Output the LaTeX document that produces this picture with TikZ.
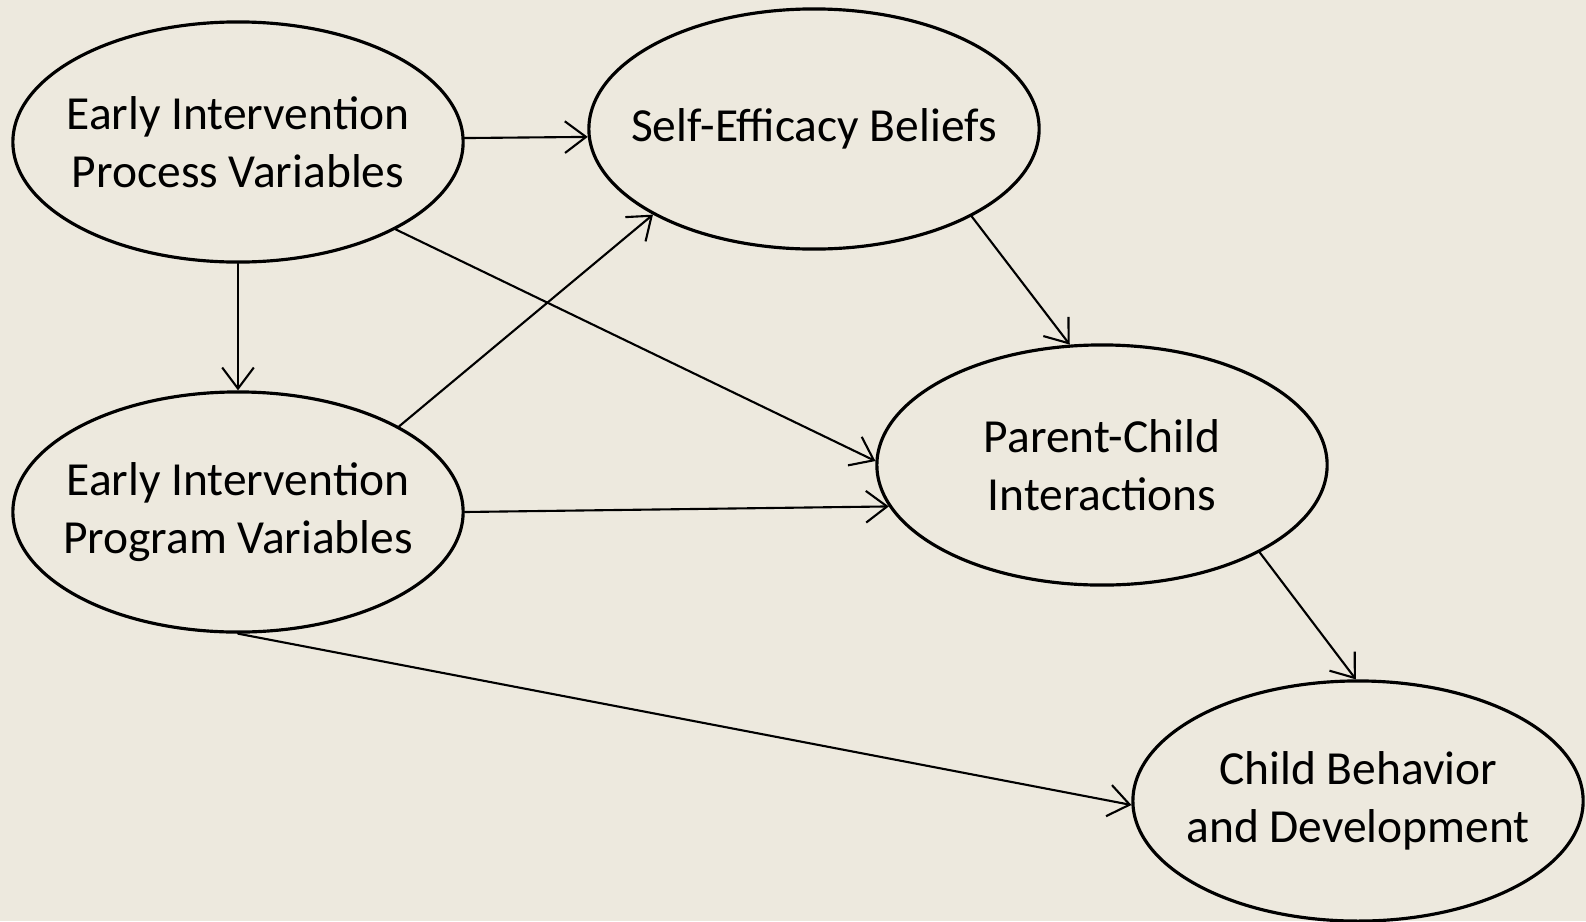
\documentclass[tikz,border=0pt]{standalone}
\usepackage{fontspec}
\setmainfont{Carlito}
\usetikzlibrary{shapes.geometric,arrows.meta}
\definecolor{paper}{RGB}{237,233,222}
\begin{document}
\begin{tikzpicture}[x=0.01cm,y=-0.01cm,line cap=round,line join=round,
  every node/.style={font=\fontsize{13.5}{16.4}\selectfont},
  oval/.style={ellipse,draw,line width=0.9pt,inner xsep=-12pt,inner ysep=0pt,minimum width=4.5cm,minimum height=2.4cm,align=center},
  arr/.style={line width=0.6pt,-{Straight Barb[length=6pt,width=9pt]}}]
  \fill[paper] (0,0) rectangle (1586,921);
  \useasboundingbox (0,0) rectangle (1586,921);
  \node[oval] (proc) at (238,142) {Early Intervention\\Process Variables};
  \node[oval] (eff) at (814,129) {Self-Efficacy Beliefs};
  \node[oval] (prog) at (238,512) {Early Intervention\\Program Variables};
  \node[oval] (pci) at (1102,465) {Parent-Child\\Interactions};
  \node[oval] (cbd) at (1358,801) {Child Behavior\\and Development};
  \draw[arr] (proc.1) -- (eff.182.5);
  \draw[arr] (proc.south) -- (prog.north);
  \draw[arr] (proc.331) -- (pci.179);
  \draw[arr] (prog.28) -- (eff.208);
  \draw[arr] (prog.east) -- (pci.191);
  \draw[arr] (eff.331) -- (pci.105);
  \draw[arr] (pci.331) -- (cbd.91);
  \draw[arr] (prog.south) -- (cbd.181);
\end{tikzpicture}
\end{document}
